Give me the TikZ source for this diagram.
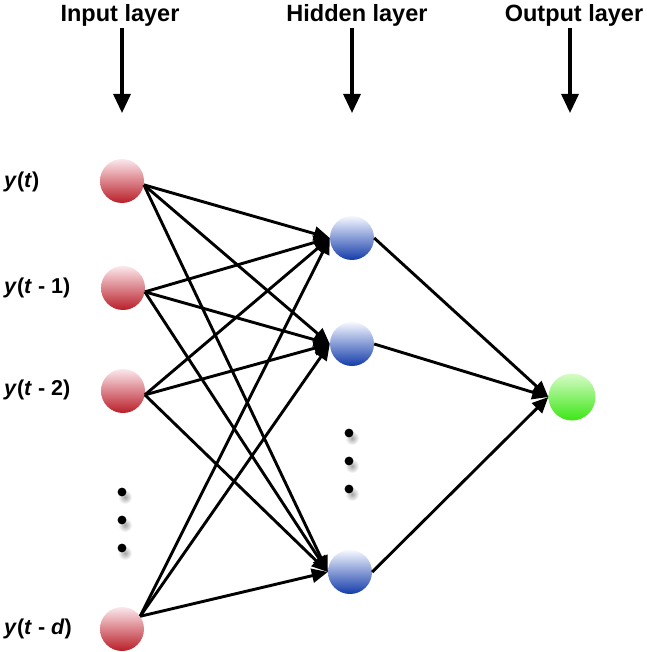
\documentclass[tikz,border=0pt]{standalone}
\usepackage{fontspec}
\setmainfont{Liberation Sans}
\usetikzlibrary{arrows.meta}
\definecolor{reddark}{RGB}{185,30,40}
\definecolor{redlight}{RGB}{252,232,236}
\definecolor{bluedark}{RGB}{20,60,170}
\definecolor{bluelight}{RGB}{245,248,255}
\definecolor{greendark}{RGB}{60,230,20}
\definecolor{greenlight}{RGB}{215,252,200}
\tikzset{
  neuron/.style={circle, minimum size=44pt, inner sep=0pt, shading angle=-35},
  inneuron/.style={neuron, top color=redlight, bottom color=reddark},
  hidneuron/.style={neuron, top color=bluelight, bottom color=bluedark},
  outneuron/.style={neuron, minimum size=47pt, shading angle=0, top color=greenlight, bottom color=greendark},
  conn/.style={line width=2.9pt, -{Triangle[length=16pt,width=14pt]}},
  layerlabel/.style={font=\fontsize{23.5}{26}\selectfont\bfseries, anchor=base, inner sep=0pt},
  layerarrow/.style={line width=3.2pt, -{Triangle[length=19pt,width=17pt]}},
  inlabel/.style={font=\fontsize{21.5}{24}\selectfont\bfseries, anchor=west, inner sep=0pt},
  dotshadow/.style={inner color=black!35, outer color=white},
}
\newcommand{\vdotcol}[2]{%
  \foreach \yy in {0,28,56} {
    \shade[dotshadow] (#1+3,#2+\yy+5) circle (7);
    \fill[black] (#1,#2+\yy) circle (4.4);
  }}
\begin{document}
\begin{tikzpicture}[x=1pt,y=-1pt]
\useasboundingbox (0,0) rectangle (646,652);

% layer labels and arrows
\node[layerlabel] (lin) at (120,22) {Input layer};
\node[layerlabel] (lhid) at (357,22) {Hidden layer};
\node[layerlabel] (lout) at (574,22) {Output layer};
\coordinate (ain1) at (122,28);  \coordinate (ain2) at (122,113);
\coordinate (ahid1) at (352,28); \coordinate (ahid2) at (352,113);
\coordinate (aout1) at (570,28); \coordinate (aout2) at (570,113);
\draw[layerarrow] (ain1) -- (ain2);
\draw[layerarrow] (ahid1) -- (ahid2);
\draw[layerarrow] (aout1) -- (aout2);

% neurons
\node[inneuron] (i1) at (122,181) {};
\node[inneuron] (i2) at (123,288) {};
\node[inneuron] (i3) at (123,391) {};
\node[inneuron] (i4) at (122,629) {};
\node[hidneuron] (h1) at (352,238) {};
\node[hidneuron] (h2) at (352,344) {};
\node[hidneuron] (h3) at (350,572) {};
\node[outneuron] (o) at (572,397) {};

% input labels
\node[inlabel] (t1) at (4,182) {\textit{y}(\textit{t})};
\node[inlabel] (t2) at (4,288) {\textit{y}(\textit{t} - 1)};
\node[inlabel] (t3) at (4,390) {\textit{y}(\textit{t} - 2)};
\node[inlabel] (t4) at (4,629) {\textit{y}(\textit{t} - \textit{d})};

% dots
\vdotcol{122}{492}
\vdotcol{349}{433}

% connections
\foreach \h in {h1,h2,h3} {
  \draw[conn] (i1.-10) -- (\h.west);
  \draw[conn] (i2.-10) -- (\h.west);
  \draw[conn] (i3.-10) -- (\h.west);
  \draw[conn] (i4.35) -- (\h.west);
  \draw[conn] (\h.east) -- (o.west);
}
\end{tikzpicture}
\end{document}
